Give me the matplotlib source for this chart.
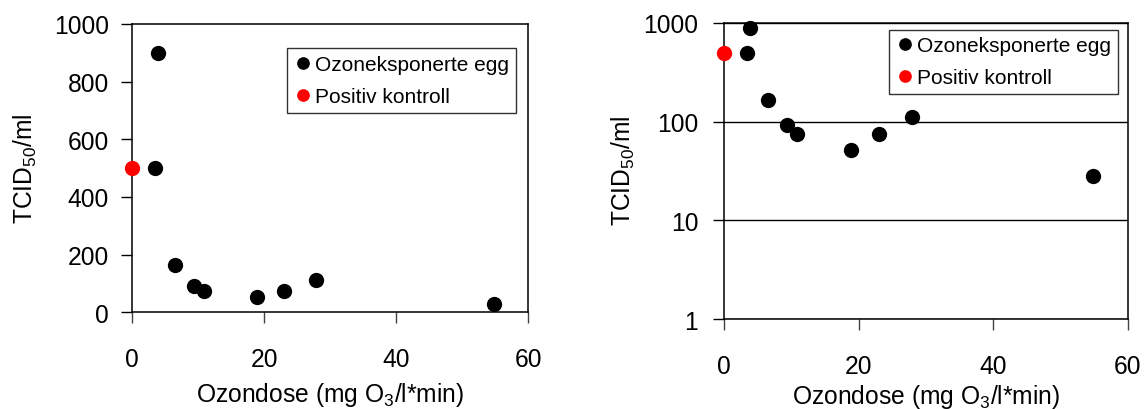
import matplotlib
matplotlib.use("Agg")
import matplotlib.pyplot as plt
from matplotlib.ticker import FixedLocator, NullLocator

plt.rcParams['font.family'] = ['Liberation Sans', 'DejaVu Sans']
plt.rcParams['mathtext.fontset'] = 'custom'
plt.rcParams['mathtext.rm'] = 'Liberation Sans'
plt.rcParams['mathtext.it'] = 'Liberation Sans:italic'
plt.rcParams['mathtext.bf'] = 'Liberation Sans:bold'

# Data
dose_exposed = [3.4, 3.9, 6.5, 9.4, 10.9, 18.9, 23.0, 27.9, 54.9]
tcid_exposed = [500, 900, 164, 92, 75, 52, 75, 112, 28]
dose_control = [0]
tcid_control = [500]

label_exposed = "Ozoneksponerte egg"
label_control = "Positiv kontroll"
xlabel = r"Ozondose (mg O$_{3}$/l*min)"
ylabel = r"TCID$_{50}$/ml"

lin_yticks = [0, 200, 400, 600, 800, 1000]
log_yticks = [1, 10, 100, 1000]
xticks = [0, 20, 40, 60]

W, H = 1144, 410
fig = plt.figure(figsize=(W / 100, H / 100), dpi=100)

def fx(px):
    return px / W

def fy(py):
    return 1 - py / H

ax1 = fig.add_axes([fx(132.3), fy(313.3), (528.0 - 132.3) / W, (313.3 - 25) / H])
ax2 = fig.add_axes([fx(724.0), fy(320.0), (1127.5 - 724.0) / W, (320 - 24) / H])

FS = 17.7
ms = 11.0
for ax in (ax1, ax2):
    ax.plot(dose_exposed, tcid_exposed, 'o', color='black', markersize=ms,
            markeredgewidth=0, label=label_exposed, clip_on=False, zorder=5)
    ax.plot(dose_control, tcid_control, 'o', color='#ff0000', markersize=ms,
            markeredgewidth=0, label=label_control, clip_on=False, zorder=6)
    ax.set_xlim(0, 60)
    ax.xaxis.set_major_locator(FixedLocator(xticks))
    ax.xaxis.set_minor_locator(NullLocator())
    ax.tick_params(axis='both', which='major', direction='out', length=8,
                   width=1, labelsize=FS)
    ax.tick_params(axis='x', pad=17, color='#444444')
    ax.tick_params(axis='y', color='black')
    for s in ax.spines.values():
        s.set_linewidth(1.1)
        s.set_color('black')

ax1.tick_params(axis='y', pad=9)
ax2.tick_params(axis='y', pad=10.5)

ax1.set_ylim(0, 1000)
ax1.yaxis.set_major_locator(FixedLocator(lin_yticks))

ax2.set_yscale('log')
ax2.set_ylim(1, 1000)
ax2.yaxis.set_major_locator(FixedLocator(log_yticks))
ax2.yaxis.set_minor_locator(NullLocator())
ax2.set_yticklabels([str(v) for v in log_yticks])
ax2.yaxis.grid(True, which='major', color='black', linewidth=1.0)
ax2.set_axisbelow(True)

# Axis titles placed at reference positions
fig.text(fx(330.5), fy(402.5), xlabel, fontsize=FS, ha='center', va='baseline')
fig.text(fx(925.8), fy(404.0), xlabel, fontsize=FS, ha='center', va='baseline')
fig.text(fx(25.0), fy(169.0), ylabel, fontsize=FS, rotation=90, ha='center', va='center')
fig.text(fx(623.3), fy(171.0), ylabel, fontsize=FS, rotation=90, ha='center', va='center')

legend_anchor = {ax1: (516.0, 49.3), ax2: (1118.0, 30.7)}
for ax in (ax1, ax2):
    ax_px, ay_px = legend_anchor[ax]
    leg = ax.legend(loc='upper right', bbox_to_anchor=(fx(ax_px), fy(ay_px)),
                    bbox_transform=fig.transFigure, borderaxespad=0,
                    fontsize=15, frameon=True, fancybox=False,
                    edgecolor='black', markerscale=0.83, handletextpad=0.17,
                    handlelength=0.86, borderpad=0.32, labelspacing=0.63)
    leg.get_frame().set_linewidth(1.0)

fig.savefig("out.png", dpi=100)
